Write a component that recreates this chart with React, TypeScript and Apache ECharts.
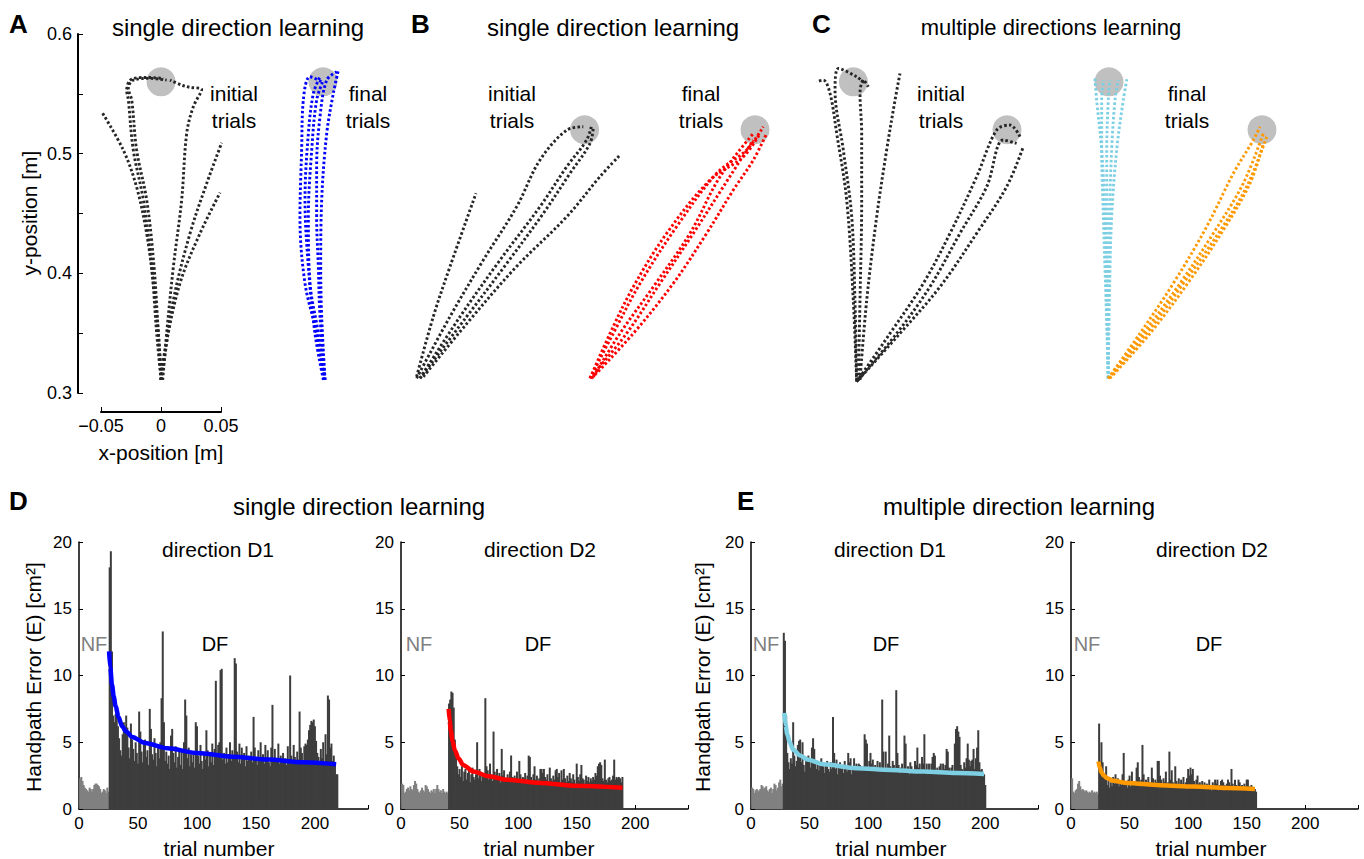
import React, { useEffect, useRef } from "react";
import * as echarts from "echarts";

const FONT = '"Liberation Sans", Arial, Helvetica, sans-serif';

// ---------- Top row: hand trajectories [x (m), y (m)] ----------
const targetsGray = [
  [0, 0.56], [0.135, 0.56],
  [0.353, 0.52], [0.495, 0.52],
  [0.577, 0.56], [0.705, 0.52], [0.79, 0.56], [0.9175, 0.52],
];

const trajA_initial = [
  [[0, 0.311], [-0.0022, 0.35], [-0.0064, 0.392], [-0.0119, 0.433], [-0.0203, 0.472], [-0.0314, 0.503], [-0.0494, 0.535]],
  [[0, 0.311], [-0.0036, 0.35], [-0.0078, 0.4055], [-0.0147, 0.4612], [-0.0231, 0.503], [-0.0272, 0.5448], [-0.0286, 0.5531], [-0.0244, 0.5623], [-0.0119, 0.5637], [0.0019, 0.5629]],
  [[0.0005, 0.311], [-0.0022, 0.35], [-0.0058, 0.4055], [-0.0119, 0.4612], [-0.0203, 0.503], [-0.0244, 0.5448], [-0.0272, 0.5545], [-0.0231, 0.5615], [-0.0092, 0.5629], [0.0047, 0.5615]],
  [[0.0014, 0.311], [0.0047, 0.3498], [0.0103, 0.4055], [0.0172, 0.4612], [0.0214, 0.5169], [0.0269, 0.5392], [0.0339, 0.5537], [0.0242, 0.5554], [0.0172, 0.5573], [0.0075, 0.5615]],
  [[0, 0.311], [0.0019, 0.322], [0.0103, 0.3777], [0.0242, 0.4334], [0.0381, 0.4752], [0.0506, 0.5091]],
  [[0, 0.311], [0.0033, 0.3359], [0.0158, 0.3916], [0.0325, 0.4334], [0.0492, 0.4674]],
];
const trajA_final = [
  [[0.1358, 0.311], [0.1297, 0.3498], [0.12, 0.3916], [0.1158, 0.4473], [0.1172, 0.503], [0.1186, 0.5448], [0.1242, 0.5643], [0.1339, 0.5601]],
  [[0.1358, 0.311], [0.1311, 0.3498], [0.1242, 0.3916], [0.1228, 0.4473], [0.1256, 0.503], [0.1297, 0.5448], [0.1353, 0.5615]],
  [[0.1367, 0.311], [0.1325, 0.3638], [0.1311, 0.4055], [0.1297, 0.4473], [0.1297, 0.4891], [0.1325, 0.5309], [0.1381, 0.5615], [0.1464, 0.5684]],
  [[0.1367, 0.311], [0.1339, 0.3638], [0.1331, 0.4055], [0.1339, 0.4612], [0.1381, 0.5169], [0.1436, 0.5504], [0.1478, 0.5698]],
  [[0.1353, 0.311], [0.1283, 0.3498], [0.1228, 0.4055], [0.12, 0.4612], [0.1228, 0.5169], [0.127, 0.5504], [0.1325, 0.5643]],
];
const trajB_initial = [
  [[0.213, 0.3136], [0.2269, 0.3638], [0.2408, 0.4055], [0.2625, 0.4669]],
  [[0.213, 0.3123], [0.2408, 0.3638], [0.2686, 0.4111], [0.2964, 0.4557], [0.3158, 0.4947], [0.3381, 0.5197], [0.3519, 0.5225]],
  [[0.2158, 0.3123], [0.2492, 0.3638], [0.2825, 0.4111], [0.3158, 0.4557], [0.3381, 0.4891], [0.3547, 0.5114], [0.3589, 0.5239]],
  [[0.2158, 0.3123], [0.2547, 0.3638], [0.2881, 0.4083], [0.3186, 0.4501], [0.3408, 0.4835], [0.3575, 0.5086], [0.3603, 0.5225]],
  [[0.2186, 0.3136], [0.255, 0.3582], [0.2961, 0.4055], [0.3381, 0.4473], [0.3658, 0.4808], [0.3825, 0.4989]],
];
const trajB_final = [
  [[0.3575, 0.3123], [0.3769, 0.3498], [0.3992, 0.3916], [0.4297, 0.439], [0.4631, 0.4836], [0.488, 0.5031], [0.5019, 0.5225]],
  [[0.3575, 0.3123], [0.3742, 0.3498], [0.3936, 0.3888], [0.4214, 0.4334], [0.4575, 0.478], [0.4853, 0.4975], [0.4992, 0.5169]],
  [[0.3589, 0.3123], [0.3936, 0.3498], [0.4269, 0.3916], [0.4547, 0.4334], [0.4769, 0.4696], [0.4936, 0.4947], [0.5047, 0.5169]],
  [[0.3575, 0.3123], [0.388, 0.3498], [0.4158, 0.3916], [0.4436, 0.4334], [0.4686, 0.4724], [0.4936, 0.5114]],
  [[0.3603, 0.3136], [0.3825, 0.3498], [0.4103, 0.3888], [0.4408, 0.4334], [0.4658, 0.4807], [0.4936, 0.5169]],
];
const trajC_initial = [
  [[0.5797, 0.3095], [0.5769, 0.3777], [0.5714, 0.4612], [0.5631, 0.5169], [0.5575, 0.5504], [0.5519, 0.5615], [0.5464, 0.5601]],
  [[0.5797, 0.3109], [0.5783, 0.3777], [0.5756, 0.4473], [0.5686, 0.503], [0.5617, 0.5531], [0.5645, 0.5712], [0.5797, 0.5643], [0.5867, 0.5587]],
  [[0.5811, 0.3109], [0.5825, 0.3777], [0.5839, 0.4612], [0.5839, 0.5169], [0.5825, 0.5504], [0.5853, 0.5615], [0.5894, 0.5559]],
  [[0.5825, 0.3109], [0.5881, 0.3777], [0.5964, 0.4473], [0.6047, 0.503], [0.6117, 0.5448], [0.6158, 0.567]],
  [[0.5797, 0.3095], [0.6075, 0.3498], [0.6353, 0.3916], [0.6575, 0.4334], [0.6797, 0.4807], [0.6964, 0.5197], [0.7075, 0.5239], [0.7158, 0.5142]],
  [[0.5797, 0.3095], [0.6131, 0.3498], [0.6408, 0.3888], [0.6658, 0.4334], [0.6881, 0.4724], [0.7019, 0.5114], [0.713, 0.5086]],
  [[0.5811, 0.3109], [0.6158, 0.3498], [0.6492, 0.3888], [0.6797, 0.4334], [0.7047, 0.4724], [0.7186, 0.5058]],
];
const trajC_finalD1 = [
  [[0.7894, 0.3123], [0.7881, 0.3777], [0.7867, 0.4473], [0.7839, 0.503], [0.7797, 0.5448], [0.7783, 0.5629]],
  [[0.7894, 0.3123], [0.7903, 0.3777], [0.7922, 0.4473], [0.7964, 0.503], [0.8019, 0.5448], [0.8053, 0.5643]],
  [[0.7894, 0.3123], [0.7886, 0.3777], [0.7881, 0.4473], [0.7881, 0.503], [0.7894, 0.5448], [0.7908, 0.5615]],
  [[0.7894, 0.3123], [0.7894, 0.3777], [0.7903, 0.4473], [0.7922, 0.503], [0.795, 0.5448], [0.7978, 0.5615]],
  [[0.7894, 0.3123], [0.7875, 0.3777], [0.7853, 0.4473], [0.7839, 0.503], [0.7839, 0.5448], [0.7853, 0.5615]],
];
const trajC_finalD2 = [
  [[0.7894, 0.3123], [0.8158, 0.3498], [0.8436, 0.3916], [0.8714, 0.439], [0.8936, 0.4835], [0.9103, 0.5114], [0.9158, 0.5225]],
  [[0.7908, 0.3123], [0.8242, 0.3498], [0.8575, 0.3944], [0.8853, 0.4362], [0.9075, 0.4752], [0.9186, 0.5086]],
  [[0.7894, 0.3123], [0.8186, 0.3498], [0.8492, 0.3916], [0.8769, 0.4334], [0.9019, 0.4752], [0.9186, 0.5169]],
  [[0.7894, 0.3123], [0.8214, 0.3498], [0.8519, 0.3916], [0.8811, 0.4334], [0.9047, 0.4724], [0.9214, 0.5141]],
];

// ---------- Bottom row: handpath error per trial ----------
const nfD1single = [2.3, 2.4, 2.1, 1.8, 1.6, 1.5, 1.4, 1.3, 1.6, 1.5, 1.3, 1.5, 1.8, 1.9, 1.9, 1.8, 1.7, 1.5, 1.2, 1.3, 1.5, 1.4, 1.2, 1.6, 1.3];
const dfD1single = [
  18.1, 19.3, 11.8, 7.0, 6.5, 7.1, 6.9, 6.2, 5.3, 4.4,
  4.0, 5.6, 6.5, 5.9, 7.0, 6.1, 4.6, 3.8, 6.4, 5.2,
  4.5, 3.6, 5.0, 4.2, 3.4, 7.3, 5.8, 4.3, 3.5, 4.8,
  5.2, 3.9, 4.4, 3.3, 7.5, 6.0, 4.1, 3.7, 5.3, 4.2,
  3.2, 4.6, 3.8, 5.0, 8.3, 13.3, 6.5, 3.6, 4.3, 3.4,
  4.0, 3.0, 5.5, 6.0, 4.2, 3.5, 4.7, 3.1, 3.9, 4.5,
  3.3, 4.4, 3.0, 5.0, 8.2, 7.0, 3.8, 4.6, 3.2, 4.1,
  3.5, 4.3, 3.1, 6.5, 6.2, 4.0, 3.4, 4.8, 3.6, 3.0,
  4.2, 3.7, 5.9, 4.4, 3.2, 4.0, 3.5, 4.9, 3.3, 4.5,
  9.6, 3.9, 4.8, 5.0, 10.4, 10.5, 3.7, 4.2, 3.4, 4.6,
  3.5, 4.1, 5.0, 3.6, 4.4, 3.9, 11.3, 10.9, 4.3, 3.5,
  4.9, 3.4, 4.6, 3.8, 4.2, 3.2, 4.7, 3.6, 4.0, 3.7,
  4.3, 3.5, 6.9, 4.6, 3.8, 3.3, 4.4, 3.7, 5.0, 3.6,
  4.1, 3.4, 4.8, 3.9, 4.4, 3.5, 3.2, 4.6, 7.8, 3.7,
  4.5, 3.8, 3.6, 4.9, 3.4, 4.0, 3.7, 4.2, 3.5, 3.8,
  3.3, 4.7, 3.6, 10.0, 4.0, 3.4, 4.8, 3.9, 3.5, 4.3,
  3.7, 7.3, 4.6, 4.2, 3.6, 4.7, 4.9, 4.8, 5.2, 5.9,
  6.3, 6.6, 6.5, 6.7, 6.2, 5.1, 4.2, 3.9, 3.5, 4.5,
  3.8, 5.0, 3.4, 5.6, 4.1, 8.5, 8.2, 4.6, 4.9, 3.6,
  4.0, 3.5, 2.6, 2.6,
];
const fitD1single = [[25.5, 11.8], [26.5, 10.6], [28, 9.3], [29.5, 8.4], [31, 7.7], [33.5, 6.9], [36.5, 6.2], [40, 5.8], [45, 5.4], [56, 4.95], [75, 4.55], [100, 4.2], [130, 3.92], [160, 3.7], [190, 3.5], [218, 3.35]];

const nfD2single = [1.9, 1.8, 1.2, 1.3, 1.5, 1.6, 1.4, 1.7, 1.5, 1.4, 1.8, 2.1, 1.9, 1.5, 1.3, 1.2, 1.4, 1.6, 1.4, 1.3, 1.8, 1.7, 1.5, 1.3, 1.2, 1.4, 1.3, 1.5, 1.2, 1.5, 1.8, 1.5, 1.3, 1.4, 1.2, 1.5, 1.3, 1.2, 1.3, 1.2];
const dfD2single = [
  7.9, 8.2, 8.8, 8.7, 7.6, 5.2, 4.0, 3.2, 2.6, 3.0,
  2.4, 3.2, 2.1, 2.8, 3.0, 2.2, 2.7, 2.9, 2.0, 2.6,
  3.1, 2.4, 2.2, 2.6, 5.0, 2.3, 3.0, 2.5, 2.1, 2.7,
  2.4, 8.3, 3.2, 2.9, 2.2, 3.4, 2.6, 2.1, 5.8, 2.8,
  2.4, 3.0, 2.2, 2.7, 2.0, 4.5, 2.5, 2.9, 2.3, 2.1,
  2.6, 2.2, 2.8, 4.0, 2.4, 2.0, 2.5, 2.3, 2.8, 2.2,
  3.6, 2.6, 2.0, 2.4, 2.3, 2.7, 2.1, 2.5, 4.0, 3.9,
  2.4, 2.0, 2.6, 3.2, 2.2, 2.5, 2.1, 2.3, 3.0, 3.0,
  2.7, 3.0, 2.4, 2.2, 2.6, 2.0, 3.1, 2.3, 2.1, 2.5,
  2.2, 2.9, 3.0, 2.4, 2.7, 2.0, 2.9, 2.2, 3.0, 2.3,
  2.0, 2.5, 2.1, 2.7, 2.3, 2.0, 2.6, 2.2, 1.9, 3.4,
  2.4, 2.1, 2.6, 3.3, 2.3, 2.2, 1.9, 2.5, 2.1, 2.4,
  2.0, 2.3, 2.1, 2.4, 2.2, 2.7, 2.5, 3.2, 3.4, 3.5,
  3.3, 2.3, 2.1, 3.7, 2.2, 2.0, 2.3, 2.4, 2.1, 2.2,
  2.5, 3.7, 2.2, 2.4, 2.3, 2.4, 2.3, 2.0, 2.4,
];
const fitD2single = [[40.7, 7.5], [41.5, 6.6], [42.5, 5.9], [44, 5.1], [46, 4.4], [49, 3.8], [53, 3.3], [62, 2.8], [75, 2.45], [90, 2.2], [119, 1.95], [147, 1.75], [189, 1.6]];

const nfD1multi = [1.6, 1.5, 1.2, 1.4, 1.5, 1.3, 1.4, 1.5, 1.8, 1.7, 1.5, 1.6, 1.7, 1.4, 1.3, 1.5, 1.6, 1.2, 1.5, 1.9, 1.8, 1.4, 1.6, 2.0, 2.2, 1.7, 1.9];
const dfD1multi = [
  13.2, 12.6, 7.0, 4.2, 3.5, 3.0, 3.8, 3.4, 6.5, 4.0,
  3.2, 3.6, 4.8, 5.1, 5.2, 3.5, 5.0, 3.3, 2.8, 3.9,
  3.7, 4.0, 3.6, 3.1, 4.6, 5.3, 4.5, 3.4, 3.0, 3.6,
  2.9, 3.3, 3.8, 3.5, 3.2, 2.7, 3.4, 3.6, 3.0, 2.8,
  3.5, 3.0, 6.9, 4.2, 3.0, 3.7, 2.6, 3.3, 3.5, 3.0,
  3.2, 2.7, 3.6, 3.0, 2.8, 4.2, 3.5, 3.8, 2.6, 3.1,
  3.8, 2.9, 3.4, 3.1, 3.4, 3.3, 3.0, 3.2, 2.9, 5.6,
  5.2, 4.9, 3.1, 3.6, 4.2, 3.4, 3.7, 3.0, 3.3, 2.9,
  3.6, 3.1, 3.5, 3.0, 8.2, 4.3, 2.8, 4.3, 3.0, 3.4,
  5.5, 3.2, 2.9, 3.6, 3.3, 3.0, 8.9, 4.2, 3.3, 2.7,
  3.1, 3.4, 3.0, 5.5, 4.9, 2.8, 3.2, 2.6, 3.5, 3.2,
  3.0, 2.9, 3.6, 3.3, 4.6, 3.1, 3.4, 2.8, 3.9, 3.4,
  5.6, 3.0, 3.4, 2.6, 3.4, 2.9, 3.4, 3.9, 4.2, 4.0,
  2.8, 3.1, 2.9, 3.2, 3.4, 2.7, 3.4, 3.0, 3.3, 4.5,
  4.3, 3.1, 2.9, 3.1, 3.3, 2.8, 4.9, 6.0, 6.2, 5.8,
  5.4, 3.3, 3.0, 2.9, 3.5, 3.1, 3.8, 4.9, 3.7, 3.2,
  3.6, 3.7, 4.5, 3.0, 3.8, 4.6, 5.9, 3.5, 2.9, 3.0,
  2.7, 2.6, 1.8,
];
const fitD1multi = [[28.5, 7.2], [29.5, 6.3], [31, 5.6], [33, 5.0], [36, 4.45], [42, 4.0], [48, 3.7], [62, 3.35], [90, 3.06], [119, 2.93], [147, 2.8], [175, 2.7], [199, 2.62]];

const nfD2multi = [2.3, 1.3, 1.2, 1.4, 1.5, 1.9, 2.1, 1.7, 1.4, 1.5, 1.4, 1.3, 1.4, 1.3, 1.2, 1.3, 1.2, 1.4, 1.2, 1.3, 1.2, 1.3, 1.1];
const dfD2multi = [
  6.4, 3.6, 5.0, 3.5, 2.6, 2.4, 3.2, 1.8, 2.2, 1.6,
  2.0, 1.7, 2.4, 1.9, 2.6, 1.9, 2.3, 1.7, 2.0, 1.8,
  2.6, 4.2, 1.8, 2.0, 1.6, 2.2, 2.5, 1.7, 2.8, 1.9,
  2.1, 1.8, 3.1, 3.5, 2.4, 1.7, 2.2, 4.8, 2.6, 1.9,
  2.2, 1.8, 2.4, 2.0, 1.7, 3.1, 2.3, 1.9, 2.2, 2.0,
  3.6, 3.6, 2.5, 2.2, 1.8, 2.3, 2.0, 2.8, 1.8, 2.0,
  4.3, 2.2, 2.9, 2.0, 1.7, 3.2, 2.1, 1.9, 2.3, 1.8,
  2.2, 1.9, 2.4, 1.7, 2.0, 2.3, 3.0, 2.5, 3.1, 2.6,
  3.0, 2.1, 1.8, 2.2, 2.5, 1.9, 2.0, 1.7, 2.1, 1.8,
  2.0, 1.6, 1.9, 1.7, 2.2, 1.8, 1.4, 2.0, 1.7, 2.2,
  1.9, 2.2, 1.4, 1.8, 2.1, 2.2, 2.0, 1.8, 1.6, 1.9,
  2.2, 2.0, 1.8, 3.0, 1.9, 1.7, 2.2, 1.8, 1.6, 2.2,
  2.0, 1.7, 1.8, 1.6, 1.9, 1.7, 2.2, 2.2, 1.7, 1.6,
  1.8, 1.5, 1.6, 1.5, 1.3,
];
const fitD2multi = [[23.5, 3.56], [24.5, 3.1], [26, 2.75], [28, 2.5], [31, 2.3], [36, 2.12], [48, 1.95], [76, 1.78], [105, 1.68], [133, 1.58], [157, 1.5]];

const yTicksTop = [0.3, 0.4, 0.5, 0.6];
const xTicksTop = [-0.05, 0, 0.05];

// ---------- colours ----------
const C_BLACK = "#262626";
const C_BLUE = "#0000ff";
const C_RED = "#ff0000";
const C_CYAN = "#7dcfe3";
const C_ORANGE = "#ff9900";
const C_NF = "#808080";
const C_DF = "#3d3d3d";
const C_TARGET = "#c0c0c0";

function buildOption() {
  const axisLineStyle = { color: "#000", width: 1.5 };
  const txt = (text: string, x: number, y: number, size: number, o: any = {}) => ({
    type: "text",
    x,
    y,
    rotation: o.rot || 0,
    z: 20,
    silent: true,
    style: {
      text,
      fontSize: size,
      fontFamily: FONT,
      fontWeight: o.weight || "normal",
      fill: o.fill || "#000",
      align: o.align || "center",
      verticalAlign: "middle",
    },
  });

  const grids: any[] = [
    { left: 77, top: 34, width: 1284, height: 359 }, // trajectories (hidden axes)
    { left: 101, top: 34, width: 120, height: 359 }, // panel A axes
    { left: 79, top: 542, width: 289, height: 267 },
    { left: 401, top: 542, width: 287, height: 267 },
    { left: 751, top: 542, width: 287, height: 267 },
    { left: 1071, top: 542, width: 287, height: 267 },
  ];

  const bottomX = (gi: number) => ({
    type: "value",
    gridIndex: gi,
    min: 0,
    max: 245,
    interval: 50,
    axisLine: { show: true, lineStyle: axisLineStyle },
    axisTick: { show: true, inside: true, length: 4, lineStyle: { color: "#000" } },
    axisLabel: {
      fontSize: 17,
      fontFamily: FONT,
      color: "#000",
      margin: 6,
      formatter: (v: number) => (Math.round(v) % 50 === 0 ? String(Math.round(v)) : ""),
    },
    splitLine: { show: false },
  });
  const bottomY = (gi: number) => ({
    type: "value",
    gridIndex: gi,
    min: 0,
    max: 20,
    interval: 5,
    axisLine: { show: true, lineStyle: axisLineStyle },
    axisTick: { show: true, inside: true, length: 4, lineStyle: { color: "#000" } },
    axisLabel: { fontSize: 17, fontFamily: FONT, color: "#000", margin: 7 },
    splitLine: { show: false },
  });

  const xAxes: any[] = [
    { type: "value", gridIndex: 0, min: -0.07, max: 1.0, show: false },
    {
      type: "value",
      gridIndex: 1,
      min: -0.05,
      max: 0.05,
      interval: 0.05,
      offset: 19,
      axisLine: { show: true, onZero: false, lineStyle: { color: "#000", width: 2 } },
      axisTick: { show: true, inside: true, length: 5, lineStyle: { color: "#000" } },
      axisLabel: {
        fontSize: 18,
        fontFamily: FONT,
        color: "#000",
        margin: 5,
        formatter: (v: number) => {
          const r = Math.round(v * 100) / 100;
          if (!xTicksTop.some((t) => Math.abs(t - r) < 1e-6)) return "";
          return r === 0 ? "0" : r < 0 ? "\u2212" + Math.abs(r) : String(r);
        },
      },
      splitLine: { show: false },
    },
    bottomX(2),
    bottomX(3),
    bottomX(4),
    bottomX(5),
  ];
  const yAxes: any[] = [
    { type: "value", gridIndex: 0, min: 0.3, max: 0.6, show: false },
    {
      type: "value",
      gridIndex: 1,
      min: 0.3,
      max: 0.6,
      interval: 0.05,
      offset: 23,
      axisLine: { show: true, onZero: false, lineStyle: { color: "#000", width: 2 } },
      axisTick: { show: true, inside: true, length: 5, lineStyle: { color: "#000" } },
      axisLabel: {
        fontSize: 18,
        fontFamily: FONT,
        color: "#000",
        margin: 6,
        formatter: (v: number) => {
          const r = Math.round(v * 100) / 100;
          return yTicksTop.some((t) => Math.abs(t - r) < 1e-6) ? r.toFixed(1) : "";
        },
      },
      splitLine: { show: false },
    },
    bottomY(2),
    bottomY(3),
    bottomY(4),
    bottomY(5),
  ];

  const series: any[] = [];
  series.push({
    type: "scatter",
    xAxisIndex: 0,
    yAxisIndex: 0,
    data: targetsGray,
    symbolSize: 29,
    itemStyle: { color: C_TARGET, opacity: 1 },
    silent: true,
    z: 1,
  });
  const addTraj = (list: number[][][], color: string) => {
    list.forEach((tr) => {
      series.push({
        type: "line",
        xAxisIndex: 0,
        yAxisIndex: 0,
        data: tr,
        smooth: 0.35,
        showSymbol: false,
        symbol: "none",
        clip: false,
        silent: true,
        z: 3,
        lineStyle: { color, width: 2.9, type: [2.5, 2.3], cap: "butt" },
      });
    });
  };
  addTraj(trajA_initial, C_BLACK);
  addTraj(trajA_final, C_BLUE);
  addTraj(trajB_initial, C_BLACK);
  addTraj(trajB_final, C_RED);
  addTraj(trajC_initial, C_BLACK);
  addTraj(trajC_finalD1, C_CYAN);
  addTraj(trajC_finalD2, C_ORANGE);

  const addPanel = (gi: number, nf: number[], df: number[], fit: number[][], color: string) => {
    const data: any[] = [];
    nf.forEach((v, i) => data.push({ value: [i + 1, v], itemStyle: { color: C_NF } }));
    df.forEach((v, i) => data.push({ value: [nf.length + 1 + i, v], itemStyle: { color: C_DF } }));
    series.push({
      type: "bar",
      xAxisIndex: gi,
      yAxisIndex: gi,
      data,
      barWidth: 2,
      silent: true,
      z: 2,
    });
    series.push({
      type: "line",
      xAxisIndex: gi,
      yAxisIndex: gi,
      data: fit,
      smooth: 0.3,
      smoothMonotone: "x",
      showSymbol: false,
      symbol: "none",
      silent: true,
      z: 4,
      lineStyle: { color, width: 4.5 },
    });
  };
  addPanel(2, nfD1single, dfD1single, fitD1single, C_BLUE);
  addPanel(3, nfD2single, dfD2single, fitD2single, C_RED);
  addPanel(4, nfD1multi, dfD1multi, fitD1multi, C_CYAN);
  addPanel(5, nfD2multi, dfD2multi, fitD2multi, C_ORANGE);

  const graphics: any[] = [
    // top row
    txt("A", 9, 24, 26, { weight: "bold", align: "left" }),
    txt("B", 411, 24, 26, { weight: "bold", align: "left" }),
    txt("C", 812, 24, 26, { weight: "bold", align: "left" }),
    txt("single direction learning", 238, 27, 24),
    txt("single direction learning", 613, 27, 24),
    txt("multiple directions learning", 1051, 27, 22),
    txt("initial", 234, 93, 21),
    txt("trials", 234, 120, 21),
    txt("final", 368, 93, 21),
    txt("trials", 368, 120, 21),
    txt("initial", 512, 93, 21),
    txt("trials", 512, 120, 21),
    txt("final", 701, 93, 21),
    txt("trials", 701, 120, 21),
    txt("initial", 941, 93, 21),
    txt("trials", 941, 120, 21),
    txt("final", 1187, 93, 21),
    txt("trials", 1187, 120, 21),
    txt("y-position [m]", 29, 213, 21, { rot: Math.PI / 2 }),
    txt("x-position [m]", 161, 452, 21),
    // bottom row
    txt("D", 9, 501, 26, { weight: "bold", align: "left" }),
    txt("E", 737, 501, 26, { weight: "bold", align: "left" }),
    txt("single direction learning", 359, 506, 24),
    txt("multiple direction learning", 1019, 506, 24),
    txt("direction D1", 218, 549, 21),
    txt("direction D2", 540, 549, 21),
    txt("direction D1", 890, 549, 21),
    txt("direction D2", 1212, 549, 21),
    txt("NF", 94, 644, 20, { fill: C_NF }),
    txt("DF", 215, 644, 20),
    txt("NF", 419, 644, 20, { fill: C_NF }),
    txt("DF", 538, 644, 20),
    txt("NF", 766, 644, 20, { fill: C_NF }),
    txt("DF", 886, 644, 20),
    txt("NF", 1087, 644, 20, { fill: C_NF }),
    txt("DF", 1209, 644, 20),
    txt("Handpath Error (E) [cm\u00B2]", 33, 677, 21, { rot: Math.PI / 2 }),
    txt("Handpath Error (E) [cm\u00B2]", 702, 677, 21, { rot: Math.PI / 2 }),
    txt("trial number", 219, 848, 21),
    txt("trial number", 539, 848, 21),
    txt("trial number", 891, 848, 21),
    txt("trial number", 1211, 848, 21),
  ];

  return {
    animation: false,
    backgroundColor: "#ffffff",
    textStyle: { fontFamily: FONT },
    grid: grids,
    xAxis: xAxes,
    yAxis: yAxes,
    series,
    graphic: graphics,
  };
}

export default function App() {
  const ref = useRef<HTMLDivElement>(null);
  useEffect(() => {
    document.body.style.margin = "0";
    document.body.style.overflow = "hidden";
    const chart = echarts.init(ref.current as HTMLDivElement, null, { renderer: "svg" });
    chart.setOption(buildOption() as any);
    return () => {
      chart.dispose();
    };
  }, []);
  return <div ref={ref} style={{ width: 1364, height: 859 }} />;
}
